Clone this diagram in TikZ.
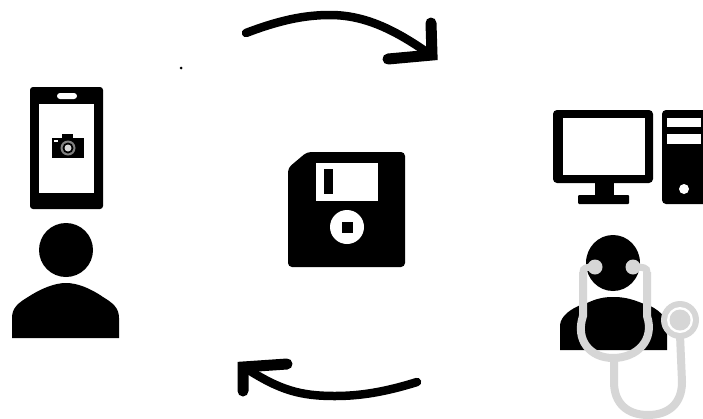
\documentclass[tikz,border=0pt]{standalone}
\definecolor{steth}{HTML}{D6D6D6}
\tikzset{
  ink/.style={fill=black,draw=none},
  paper/.style={fill=white,draw=none},
  cyclearrow/.style={draw=black,line width=8.5pt,line cap=round,line join=round},
  cyclehead/.style={draw=black,line width=11pt,line cap=round,line join=miter},
  tube/.style={draw=steth,line width=8pt,line cap=butt}
}
\begin{document}
\begin{tikzpicture}[x=1pt,y=-1pt]
\useasboundingbox (0,0) rectangle (703,418);
\fill[white] (0,0) rectangle (703,418);
% stray speck
\fill[black] (181,68) circle (1.5);
% cycle arrows
\draw[cyclearrow] (246,33) .. controls (280,20) and (305,15) .. (330,15) .. controls (365,15) and (395,30) .. (428,53);
\draw[cyclehead] (431,23) -- (432,55) -- (388,59);
\draw[cyclearrow] (417,382) .. controls (385,392) and (360,396) .. (335,396) .. controls (300,396) and (280,390) .. (247,369);
\draw[cyclehead] (287,364) -- (243,367) -- (243,391);
% phone
\fill[ink,rounded corners=3pt] (30,87) rectangle (103,209);
\fill[paper] (39,104) rectangle (94,193);
\fill[paper,rounded corners=3pt] (57,93) rectangle (77,99);
% camera
\fill[ink] (52,138) rectangle (84,158);
\fill[ink] (62,134) rectangle (73,140);
\fill[paper] (54,140) rectangle (58,142);
\fill[steth!60!black] (68,148) circle (7.5);
\fill[black] (68,148) circle (5.5);
\fill[steth] (68,148) circle (3.5);
% patient
\fill[ink] (66,250) circle (27);
\fill[ink] (12,338) -- (12,318) .. controls (12,308) and (18,303) .. (28,297) .. controls (42,288) and (55,283) .. (66,283) .. controls (77,283) and (90,288) .. (103,297) .. controls (113,303) and (119,308) .. (119,318) -- (119,338) -- cycle;
% floppy disk
\fill[ink,rounded corners=4pt] (288,267) -- (288,168) -- (307,152) -- (405,152) -- (405,267) -- cycle;
\fill[paper] (316,163) rectangle (378,201);
\fill[ink] (324,169) rectangle (333,194);
\fill[paper] (347,227) circle (17);
\fill[ink] (342,222) rectangle (353,233);
% monitor
\fill[ink,rounded corners=4pt] (553,110) rectangle (653,183);
\fill[paper] (563,118) rectangle (645,175);
\fill[ink] (595,183) rectangle (614,196);
\fill[ink,rounded corners=1pt] (578,195) rectangle (629,204);
% tower
\fill[ink,rounded corners=4pt] (662,110) rectangle (709,204);
\fill[paper] (667,118) rectangle (701,127);
\fill[paper] (667,134) rectangle (701,144);
\fill[paper] (684,189) circle (5);
% doctor
\fill[ink] (613,263) ellipse (27 and 28);
\fill[ink] (560,350) -- (560,325) .. controls (561,316) and (570,309) .. (583,304) -- (646,304) .. controls (658,309) and (666,316) .. (667,325) -- (667,350) -- cycle;
\fill[ink] (585,304) .. controls (597,298) and (605,297) .. (613,297) .. controls (622,297) and (630,298) .. (644,304) -- (644,340) -- (585,340) -- cycle;
% stethoscope
\draw[tube] (583,272) -- (583,316) .. controls (575,340) and (590,358) .. (613,358) .. controls (637,358) and (655,340) .. (647,316) -- (647,272);
\draw[tube] (614,358) -- (614,382) .. controls (614,404) and (628,415) .. (648,415) .. controls (668,415) and (682,404) .. (682,382) -- (680,335);
\fill[steth] (595,267) circle (7.5);
\fill[steth] (633,267) circle (7.5);
\draw[steth,line width=7pt,line cap=round] (583,272) .. controls (583,268) and (586,267) .. (595,267);
\draw[steth,line width=7pt,line cap=round] (647,272) .. controls (647,268) and (644,267) .. (633,267);
\fill[steth] (680,320) circle (19);
\fill[paper] (680,320) circle (13);
\fill[steth] (680,320) circle (10.5);
\end{tikzpicture}
\end{document}
